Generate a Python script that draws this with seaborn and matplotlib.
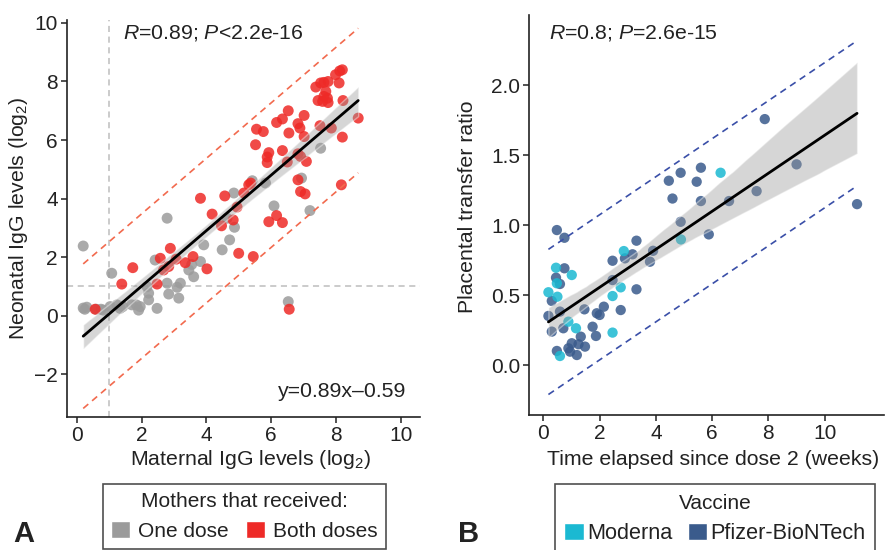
import numpy as np
import pandas as pd
import matplotlib
matplotlib.use("Agg")
import matplotlib.pyplot as plt
import seaborn as sns
from matplotlib.patches import Patch

# panel A: maternal vs neonatal IgG (log2)
one_x = [0.20, 2.79, 1.08, 0.20, 0.25, 0.31, 0.60, 0.75, 0.82, 1.03, 1.24, 1.34, 1.42, 1.70,
         1.84, 1.96, 1.91, 2.22, 2.48, 2.17, 2.22, 2.42, 2.79, 2.84, 3.10, 3.15, 3.20, 3.46,
         3.55, 3.61, 3.82, 3.92, 4.49, 4.72, 4.87, 4.85, 4.64, 5.42, 5.83, 7.53, 6.94, 6.09,
         7.20, 6.53]
one_y = [2.38, 3.33, 1.45, 0.26, 0.22, 0.29, 0.22, 0.22, 0.19, 0.31, 0.37, 0.25, 0.31, 0.37,
         0.37, 0.31, 0.19, 0.54, 0.25, 0.99, 0.77, 1.90, 1.11, 0.74, 0.97, 0.60, 1.11, 1.56,
         1.75, 1.33, 1.85, 2.42, 2.25, 2.59, 3.02, 4.19, 3.33, 4.61, 4.53, 5.72, 4.70, 3.75,
         3.59, 0.48]
both_x = [0.57, 1.39, 1.73, 2.48, 2.58, 2.68, 2.84, 2.89, 3.07, 3.35, 3.59, 4.02, 3.82, 4.18,
          4.47, 4.57, 4.83, 4.95, 5.00, 5.16, 5.31, 5.45, 8.20, 7.99, 8.12, 8.10, 7.76, 7.63,
          7.53, 7.38, 7.69, 7.63, 7.59, 7.74, 7.45, 7.76, 8.22, 8.69, 8.20, 8.17, 7.86, 7.51,
          6.53, 7.02, 6.35, 6.17, 6.83, 6.89, 7.02, 6.55, 5.55, 5.76, 5.52, 5.93, 5.88, 5.88,
          6.35, 6.83, 6.91, 7.09, 6.50, 6.83, 6.91, 7.05, 5.37, 5.93, 6.17, 6.35, 6.56]
both_y = [0.22, 1.08, 1.64, 1.08, 1.96, 1.56, 1.68, 2.30, 1.93, 1.81, 2.02, 1.60, 4.01, 3.47,
          3.07, 4.09, 3.27, 3.71, 2.13, 4.19, 4.47, 2.02, 8.40, 8.23, 8.36, 7.95, 8.00, 7.97,
          7.95, 7.81, 7.66, 7.49, 7.32, 7.43, 7.35, 7.28, 7.35, 6.75, 6.10, 4.47, 6.41, 6.49,
          7.00, 6.84, 6.72, 6.60, 6.56, 6.41, 6.12, 6.24, 6.37, 6.29, 5.84, 5.57, 5.42, 5.23,
          5.64, 5.53, 5.44, 5.27, 5.25, 4.64, 4.24, 4.16, 4.53, 3.21, 3.42, 3.18, 0.22]

# panel B: weeks since dose 2 vs placental transfer ratio
pfizer_x = [7.87, 9.00, 11.15, 7.58, 6.60, 5.60, 5.88, 5.60, 5.45, 4.88, 4.46, 4.59, 4.88,
            3.79, 3.90, 3.31, 3.31, 2.46, 2.90, 3.17, 2.46, 2.75, 2.15, 1.90, 2.00, 1.87,
            1.75, 1.46, 1.33, 1.48, 1.19, 1.01, 0.89, 0.95, 1.25, 0.48, 0.75, 0.75, 0.45,
            0.59, 0.30, 0.18, 0.59, 0.30, 0.71, 0.48]
pfizer_y = [1.757, 1.434, 1.150, 1.243, 1.172, 1.172, 0.934, 1.410, 1.310, 1.374, 1.317,
            1.190, 1.024, 0.739, 0.817, 0.889, 0.542, 0.746, 0.763, 0.792, 0.608, 0.394,
            0.418, 0.371, 0.359, 0.209, 0.275, 0.399, 0.204, 0.133, 0.073, 0.157, 0.121,
            0.097, 0.150, 0.965, 0.910, 0.692, 0.625, 0.580, 0.459, 0.352, 0.383, 0.240,
            0.264, 0.102]
moderna_x = [6.30, 4.89, 2.86, 2.75, 2.46, 2.46, 0.45, 1.01, 0.18, 0.50, 0.48, 0.89, 1.16, 0.59]
moderna_y = [1.374, 0.898, 0.815, 0.556, 0.494, 0.233, 0.696, 0.644, 0.521, 0.489, 0.585,
             0.311, 0.264, 0.066]

dfa = pd.DataFrame({
    "maternal": one_x + both_x,
    "neonatal": one_y + both_y,
    "group": ["One dose"] * len(one_x) + ["Both doses"] * len(both_x),
})
dfb = pd.DataFrame({
    "weeks": pfizer_x + moderna_x,
    "ratio": pfizer_y + moderna_y,
    "vaccine": ["Pfizer-BioNTech"] * len(pfizer_x) + ["Moderna"] * len(moderna_x),
})

pal_a = {"One dose": "#9B9B9B", "Both doses": "#EE2A27"}
pal_b = {"Moderna": "#1BB9D2", "Pfizer-BioNTech": "#3A5B8C"}

sns.set_style("ticks")
plt.rcParams["font.family"] = ["Liberation Sans", "DejaVu Sans"]
plt.rcParams["mathtext.fontset"] = "custom"
plt.rcParams["mathtext.rm"] = "Liberation Sans"
plt.rcParams["mathtext.it"] = "Liberation Sans:italic"
plt.rcParams["text.color"] = "#222222"
plt.rcParams["axes.labelcolor"] = "#222222"
plt.rcParams["xtick.color"] = "#222222"
plt.rcParams["ytick.color"] = "#222222"

FS = 15.3

fig = plt.figure(figsize=(8.9, 5.5), dpi=100)
ax_a = fig.add_axes([0.0753, 0.2424, 0.3967, 0.7212])
ax_b = fig.add_axes([0.5947, 0.2455, 0.3983, 0.7272])


def fit_panel(ax, data, x, y, dash_color):
    # regression line + CI band on top of the points, then 95% prediction lines
    sns.regplot(data=data, x=x, y=y, ax=ax, scatter=False, ci=95, n_boot=1000, seed=3,
                color="black", line_kws={"lw": 2, "zorder": 5})
    band = ax.collections[-1]
    band.set_facecolor("#999999")
    band.set_alpha(0.4)
    band.set_zorder(4)
    k, b = np.polyfit(data[x], data[y], 1)
    res = data[y] - (k * data[x] + b)
    se = np.sqrt((res ** 2).sum() / (len(res) - 2))
    xs = np.array([data[x].min(), data[x].max()])
    for sign in (1, -1):
        ax.plot(xs, k * xs + b + sign * 1.96 * se, color=dash_color, lw=1.2,
                ls=(0, (4, 3)), zorder=3)


# panel A
ax_a.axvline(1, color="#BDBDBD", lw=1.1, ls=(0, (4, 3)), zorder=1)
ax_a.axhline(1, color="#BDBDBD", lw=1.1, ls=(0, (4, 3)), zorder=1)
sns.scatterplot(data=dfa, x="maternal", y="neonatal", hue="group", palette=pal_a,
                hue_order=["One dose", "Both doses"], s=62, alpha=0.85, edgecolor="none",
                legend=False, ax=ax_a, zorder=2)
fit_panel(ax_a, dfa, "maternal", "neonatal", "#F26A4E")
ax_a.set_xlim(-0.3, 10.6)
ax_a.set_ylim(-3.45, 10.1)
ax_a.set_xticks(range(0, 11, 2))
ax_a.set_yticks(range(-2, 11, 2))
ax_a.set_xlabel("Maternal IgG levels (log$_2$)", fontsize=FS)
ax_a.set_ylabel("Neonatal IgG levels (log$_2$)", fontsize=FS)
ax_a.xaxis.set_label_coords(0.52, -0.08)
ax_a.yaxis.set_label_coords(-0.104, 0.5)
ax_a.text(1.44, 9.67, "$R$=0.89; $P$<2.2e-16", fontsize=FS, va="center", ha="left")
ax_a.text(10.17, -2.6, "y=0.89x\u20130.59", fontsize=FS, va="center", ha="right")

# panel B
sns.scatterplot(data=dfb, x="weeks", y="ratio", hue="vaccine", palette=pal_b,
                hue_order=["Pfizer-BioNTech", "Moderna"], s=55, alpha=0.85,
                edgecolor="none", legend=False, ax=ax_b, zorder=2)
fit_panel(ax_b, dfb, "weeks", "ratio", "#3A4FA8")
ax_b.set_xlim(-0.5, 12.1)
ax_b.set_ylim(-0.355, 2.5)
ax_b.set_xticks(range(0, 11, 2))
ax_b.set_yticks([0.0, 0.5, 1.0, 1.5, 2.0])
ax_b.set_yticklabels(["0.0", "0.5", "1.0", "1.5", "2.0"])
ax_b.set_xlabel("Time elapsed since dose 2 (weeks)", fontsize=FS)
ax_b.set_ylabel("Placental transfer ratio", fontsize=FS)
ax_b.xaxis.set_label_coords(0.52, -0.088)
ax_b.yaxis.set_label_coords(-0.148, 0.52)
ax_b.text(0.21, 2.37, "$R$=0.8; $P$=2.6e-15", fontsize=FS, va="center", ha="left")

for ax in (ax_a, ax_b):
    sns.despine(ax=ax)
    for sp in ("left", "bottom"):
        ax.spines[sp].set_linewidth(1.2)
        ax.spines[sp].set_color("#222222")
    ax.tick_params(labelsize=15, length=4, width=1.1, direction="out", pad=2.5)

# legends below each panel
legend_kw = dict(ncol=2, loc="upper center", fancybox=False, edgecolor="#222222",
                 title_fontsize=15, handlelength=0.9, handleheight=0.9,
                 labelspacing=0.45, borderaxespad=0)
leg_a = fig.legend(handles=[Patch(facecolor=pal_a["One dose"]), Patch(facecolor=pal_a["Both doses"])],
                   labels=["One dose", "Both doses"], title="Mothers that received:",
                   bbox_to_anchor=(244.5 / 890, 1 - 484 / 550), fontsize=15, borderpad=0.4,
                   handletextpad=0.38, columnspacing=0.85, **legend_kw)
leg_b = fig.legend(handles=[Patch(facecolor=pal_b["Moderna"]), Patch(facecolor=pal_b["Pfizer-BioNTech"])],
                   labels=["Moderna", "Pfizer-BioNTech"], title="Vaccine",
                   bbox_to_anchor=(715 / 890, 1 - 484 / 550), fontsize=15.6, borderpad=0.45,
                   handletextpad=0.15, columnspacing=0.7, **legend_kw)
for leg in (leg_a, leg_b):
    leg.get_frame().set_linewidth(1.2)

fig.text(13 / 890, 0.004, "A", fontsize=21, fontweight="bold", va="bottom", ha="left")
fig.text(458 / 890, 0.004, "B", fontsize=21, fontweight="bold", va="bottom", ha="left")

fig.savefig("out.png", dpi=100)
plt.close(fig)
